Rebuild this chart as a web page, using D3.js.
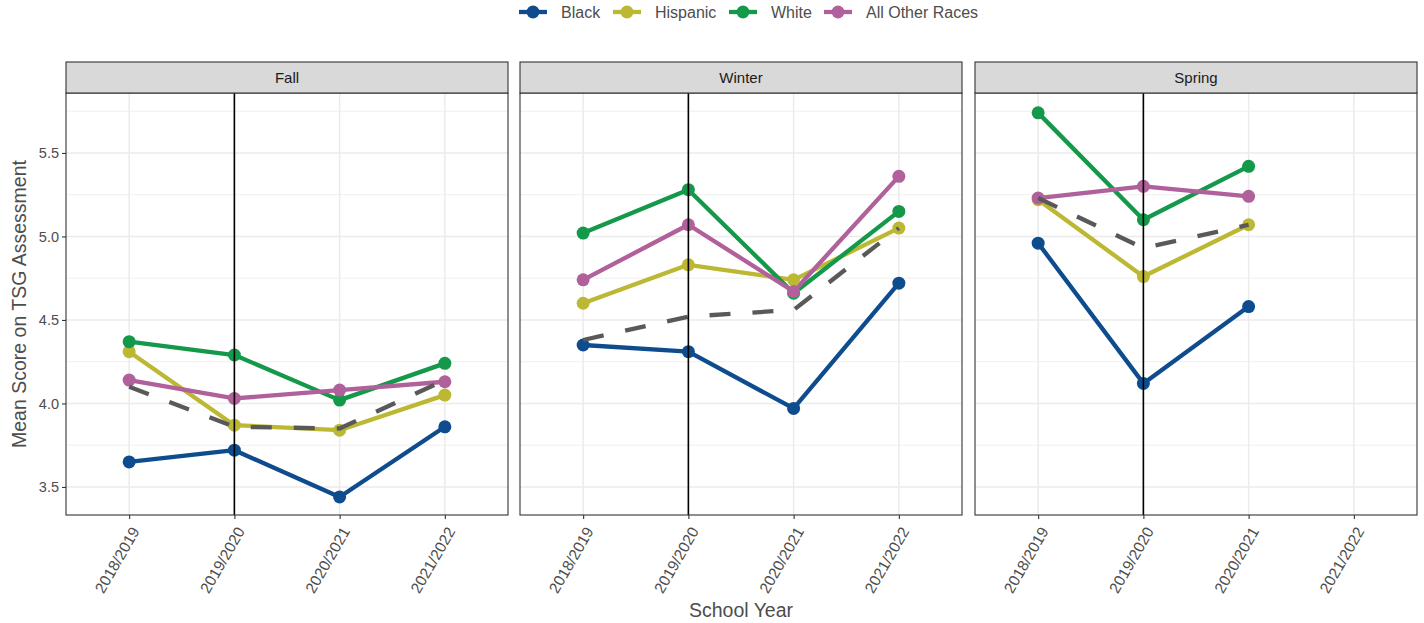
<!DOCTYPE html>
<html>
<head>
<meta charset="utf-8">
<script src="https://cdn.jsdelivr.net/npm/d3@7"></script>
<style>
  html, body { margin: 0; padding: 0; background: #fff; }
  svg { display: block; font-family: "Liberation Sans", Arial, sans-serif; }
</style>
</head>
<body>
<svg id="chart" width="1424" height="623"></svg>
<script>
// ---- data ----
const years = ["2018/2019", "2019/2020", "2020/2021", "2021/2022"];
const seasons = ["Fall", "Winter", "Spring"];
const groups = ["Black", "Hispanic", "White", "All Other Races"];
const groupColors = ["#0E4C8E", "#BDB834", "#14984A", "#B0609A"];
const yTicks = [3.5, 4.0, 4.5, 5.0, 5.5];
const yMinor = [3.75, 4.25, 4.75, 5.25, 5.75];

const blackFall   = [3.65, 3.72, 3.44, 3.86];
const blackWinter = [4.35, 4.31, 3.97, 4.72];
const blackSpring = [4.96, 4.12, 4.58, null];

const hispanicFall   = [4.31, 3.87, 3.84, 4.05];
const hispanicWinter = [4.60, 4.83, 4.74, 5.05];
const hispanicSpring = [5.22, 4.76, 5.07, null];

const whiteFall   = [4.37, 4.29, 4.02, 4.24];
const whiteWinter = [5.02, 5.28, 4.66, 5.15];
const whiteSpring = [5.74, 5.10, 5.42, null];

const otherFall   = [4.14, 4.03, 4.08, 4.13];
const otherWinter = [4.74, 5.07, 4.67, 5.36];
const otherSpring = [5.23, 5.30, 5.24, null];

const overallFall   = [4.10, 3.86, 3.85, 4.14];
const overallWinter = [4.38, 4.52, 4.56, 5.05];
const overallSpring = [5.23, 4.93, 5.07, null];

const covidYear = "2019/2020";

const seriesBySeason = {
  Fall:   [blackFall, hispanicFall, whiteFall, otherFall],
  Winter: [blackWinter, hispanicWinter, whiteWinter, otherWinter],
  Spring: [blackSpring, hispanicSpring, whiteSpring, otherSpring]
};
const overallBySeason = { Fall: overallFall, Winter: overallWinter, Spring: overallSpring };

// ---- layout ----
const svg = d3.select("#chart");
const panelLefts = [66, 520, 975];
const panelW = 442;
const stripTop = 62, panelTop = 93, panelBottom = 515;
const textCol = "#4D4D4D";

const y = d3.scaleLinear().domain([3.332, 5.859]).range([panelBottom, panelTop]);

seasons.forEach((season, si) => {
  const left = panelLefts[si];
  const x = d3.scalePoint().domain(years).range([left, left + panelW]).padding(0.6);
  const g = svg.append("g");

  g.append("rect").attr("x", left).attr("y", panelTop).attr("width", panelW)
    .attr("height", panelBottom - panelTop).attr("fill", "#fff");

  g.selectAll(".ymin").data(yMinor).enter().append("line")
    .attr("x1", left).attr("x2", left + panelW)
    .attr("y1", d => y(d)).attr("y2", d => y(d))
    .attr("stroke", "#EBEBEB").attr("stroke-width", 0.8);
  g.selectAll(".ymaj").data(yTicks).enter().append("line")
    .attr("x1", left).attr("x2", left + panelW)
    .attr("y1", d => y(d)).attr("y2", d => y(d))
    .attr("stroke", "#EBEBEB").attr("stroke-width", 1.5);
  g.selectAll(".xmaj").data(years).enter().append("line")
    .attr("x1", d => x(d)).attr("x2", d => x(d))
    .attr("y1", panelTop).attr("y2", panelBottom)
    .attr("stroke", "#EBEBEB").attr("stroke-width", 1.5);

  const series = seriesBySeason[season];
  const line = d3.line().defined(d => d.v != null).x(d => x(d.year)).y(d => y(d.v));

  series.forEach((vals, gi) => {
    const pts = years.map((yr, i) => ({ year: yr, v: vals[i] }));
    g.append("path").datum(pts).attr("d", line)
      .attr("fill", "none").attr("stroke", groupColors[gi])
      .attr("stroke-width", 4.3).attr("stroke-linejoin", "round");
  });
  series.forEach((vals, gi) => {
    const pts = years.map((yr, i) => ({ year: yr, v: vals[i] })).filter(d => d.v != null);
    g.selectAll(null).data(pts).enter().append("circle")
      .attr("cx", d => x(d.year)).attr("cy", d => y(d.v)).attr("r", 6.5)
      .attr("fill", groupColors[gi]);
  });
  const ov = years.map((yr, i) => ({ year: yr, v: overallBySeason[season][i] }));
  g.append("path").datum(ov).attr("d", line)
    .attr("fill", "none").attr("stroke", "#595959")
    .attr("stroke-width", 4.3).attr("stroke-dasharray", "21,22");

  g.append("line").attr("x1", x(covidYear)).attr("x2", x(covidYear))
    .attr("y1", panelTop).attr("y2", panelBottom)
    .attr("stroke", "#000").attr("stroke-width", 1.6);

  g.append("rect").attr("x", left).attr("y", panelTop).attr("width", panelW)
    .attr("height", panelBottom - panelTop).attr("fill", "none")
    .attr("stroke", "#333333").attr("stroke-width", 1.1);

  g.append("rect").attr("x", left).attr("y", stripTop).attr("width", panelW)
    .attr("height", panelTop - stripTop).attr("fill", "#D9D9D9")
    .attr("stroke", "#333333").attr("stroke-width", 1.1);
  g.append("text").attr("x", left + panelW / 2).attr("y", (stripTop + panelTop) / 2 + 5.5)
    .attr("text-anchor", "middle").attr("font-size", 15).attr("fill", "#1A1A1A")
    .text(season);

  const xAxis = d3.axisBottom(x).tickSize(4).tickPadding(3);
  const xa = g.append("g").attr("transform", `translate(0,${panelBottom})`).call(xAxis);
  xa.select(".domain").remove();
  xa.selectAll(".tick line").attr("stroke", "#333333").attr("stroke-width", 1.1);
  xa.selectAll(".tick text")
    .attr("font-size", 15.5).attr("fill", textCol)
    .attr("text-anchor", "end")
    .attr("dy", null)
    .attr("transform", "translate(7,14) rotate(-60)")
    .attr("x", 0).attr("y", 0)
    .attr("dominant-baseline", "middle")
    .style("font-family", "'Liberation Sans', Arial, sans-serif");

  if (si === 0) {
    const yAxis = d3.axisLeft(y).tickValues(yTicks).tickFormat(d3.format(".1f")).tickSize(4).tickPadding(3);
    const ya = g.append("g").attr("transform", `translate(${left},0)`).call(yAxis);
    ya.select(".domain").remove();
    ya.selectAll(".tick line").attr("stroke", "#333333").attr("stroke-width", 1.1);
    ya.selectAll(".tick text").attr("font-size", 14.5).attr("fill", textCol)
      .style("font-family", "'Liberation Sans', Arial, sans-serif");
  }
});

svg.append("text").attr("x", 741).attr("y", 617).attr("text-anchor", "middle")
  .attr("font-size", 19.5).attr("fill", textCol).text("School Year");
svg.append("text").attr("transform", `translate(26,${(panelTop + panelBottom) / 2}) rotate(-90)`)
  .attr("text-anchor", "middle").attr("font-size", 19.5).attr("fill", textCol)
  .text("Mean Score on TSG Assessment");

const legendX = [519, 613, 729, 824];
const lg = svg.append("g");
groups.forEach((name, i) => {
  const lx = legendX[i];
  lg.append("line").attr("x1", lx).attr("x2", lx + 28).attr("y1", 12).attr("y2", 12)
    .attr("stroke", groupColors[i]).attr("stroke-width", 4.3);
  lg.append("circle").attr("cx", lx + 14).attr("cy", 12).attr("r", 6.5).attr("fill", groupColors[i]);
  lg.append("text").attr("x", lx + 42).attr("y", 17.5).attr("font-size", 16)
    .attr("fill", textCol).text(name);
});
</script>
</body>
</html>
